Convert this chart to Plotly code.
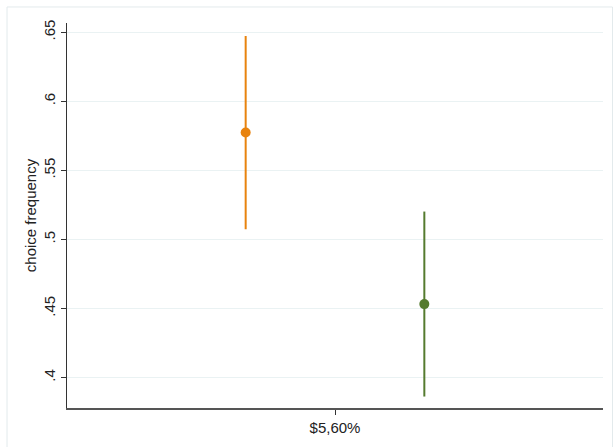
import plotly.graph_objects as go

category = "$5,60%"
x_pos = [1/3, 2/3]
means = [0.5774, 0.4532]
ci_low = [0.5074, 0.3863]
ci_high = [0.6473, 0.5202]
colors = ["#E8830E", "#557B2F"]
y_ticks = [0.4, 0.45, 0.5, 0.55, 0.6, 0.65]
y_ticklabels = [".4", ".45", ".5", ".55", ".6", ".65"]

fig = go.Figure()
for i in range(2):
    fig.add_trace(go.Scatter(
        x=[x_pos[i], x_pos[i]], y=[ci_low[i], ci_high[i]], mode="lines",
        line=dict(color=colors[i], width=2), showlegend=False, hoverinfo="skip"))
    fig.add_trace(go.Scatter(
        x=[x_pos[i]], y=[means[i]], mode="markers",
        marker=dict(color=colors[i], size=10), showlegend=False))

fig.update_layout(
    width=613, height=447,
    margin=dict(l=67, r=10, t=23, b=39),
    paper_bgcolor="white", plot_bgcolor="white",
    font=dict(family="Liberation Sans, Arial", color="#222", size=15),
    xaxis=dict(range=[0, 1], tickvals=[0.5], ticktext=[category],
               showgrid=False, zeroline=False, showline=True, linecolor="#555", linewidth=2,
               ticks="outside", ticklen=5, tickcolor="#333", tickfont=dict(size=15)),
    yaxis=dict(range=[0.378, 0.6567], tickvals=y_ticks, ticktext=y_ticklabels,
               tickangle=-90, showgrid=True, gridcolor="#EAF2F3", gridwidth=1,
               zeroline=False, showline=True, linecolor="#333", linewidth=1,
               ticks="outside", ticklen=5, tickcolor="#333", tickfont=dict(size=15),
               title=dict(text="choice frequency", font=dict(size=15), standoff=0)),
    shapes=[dict(type="rect", xref="paper", yref="paper",
                 x0=-0.1119, x1=1.0177, y0=-0.12, y1=1.0416,
                 line=dict(color="#E3EAEC", width=1), layer="below")],
)
fig.write_html("out.html")
